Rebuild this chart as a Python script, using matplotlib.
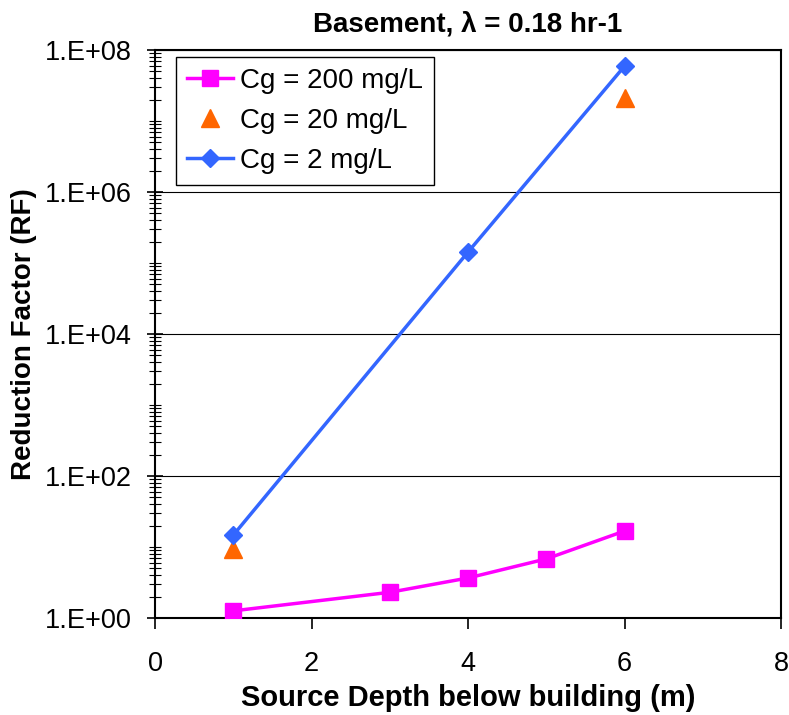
import matplotlib
matplotlib.use('Agg')
import matplotlib.pyplot as plt
from matplotlib.ticker import LogLocator, NullFormatter, FixedLocator

plt.rcParams['font.family'] = ['Liberation Sans', 'DejaVu Sans']

# data
depth_200 = [1, 3, 4, 5, 6]
rf_200 = [1.26, 2.3, 3.66, 6.8, 16.8]
depth_20 = [1, 6]
rf_20 = [9.4, 2.1e7]
depth_2 = [1, 4, 6]
rf_2 = [14.7, 1.43e5, 5.95e7]

y_ticks = [1, 1e2, 1e4, 1e6, 1e8]
y_labels = ['1.E+00', '1.E+02', '1.E+04', '1.E+06', '1.E+08']
x_ticks = [0, 2, 4, 6, 8]

fig = plt.figure(figsize=(7.89, 7.15), dpi=100)
ax = fig.add_axes([0.1965, 0.1357, 0.7935, 0.7943])

ax.plot(depth_200, rf_200, color='#ff00ff', marker='s', markersize=11,
        linewidth=2.5, label='Cg = 200 mg/L', zorder=3)
ax.plot(depth_20, rf_20, color='#ff6600', marker='^', markersize=13,
        linestyle='none', label='Cg = 20 mg/L', zorder=3)
ax.plot(depth_2, rf_2, color='#3366ff', marker='D', markersize=9,
        linewidth=2.5, label='Cg = 2 mg/L', zorder=3)

ax.set_yscale('log')
ax.set_ylim(1, 1e8)
ax.set_xlim(0, 8)

ax.yaxis.set_major_locator(FixedLocator(y_ticks))
ax.set_yticklabels(y_labels)
ax.yaxis.set_minor_locator(LogLocator(base=10, subs=[1, 2, 3, 4, 5, 6, 7, 8, 9], numticks=20))
ax.yaxis.set_minor_formatter(NullFormatter())
ax.set_xticks(x_ticks)

ax.grid(axis='y', which='major', color='black', linewidth=0.8)
ax.tick_params(axis='y', which='major', direction='inout', length=12, width=1.2, labelsize=19.5, pad=11)
ax.tick_params(axis='y', which='minor', direction='inout', length=8, width=0.8)
ax.tick_params(axis='x', which='major', direction='out', length=8, width=1.2, labelsize=19.5, pad=16)

for s in ax.spines.values():
    s.set_linewidth(1.5)
    s.set_color('black')

ax.set_title('Basement, \u03bb = 0.18 hr-1', fontsize=20, fontweight='bold', pad=13)
ax.set_xlabel('Source Depth below building (m)', fontsize=21, fontweight='bold', labelpad=5)
ax.set_ylabel('Reduction Factor (RF)', fontsize=20, fontweight='bold', labelpad=5)

leg = ax.legend(loc='upper left', bbox_to_anchor=(0.0335, 0.988), borderaxespad=0,
                fontsize=20, frameon=True, fancybox=False, edgecolor='black', framealpha=1,
                handlelength=1.65, handletextpad=0.25, borderpad=0.4, labelspacing=0.5)
leg.get_frame().set_linewidth(1.0)

fig.savefig('out.png', dpi=100)
